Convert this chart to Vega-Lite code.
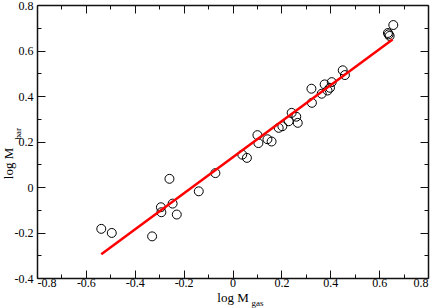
{
  "$schema": "https://vega.github.io/schema/vega-lite/v6.json",
  "autosize": "none",
  "width": 391,
  "height": 273,
  "padding": {"left": 37, "top": 5, "right": 8, "bottom": 30},
  "background": "white",
  "datasets": {
    "galaxies": [
      {"logMgas": -0.537, "logMbar": -0.184},
      {"logMgas": -0.494, "logMbar": -0.202},
      {"logMgas": -0.329, "logMbar": -0.217},
      {"logMgas": -0.293, "logMbar": -0.089},
      {"logMgas": -0.291, "logMbar": -0.111},
      {"logMgas": -0.258, "logMbar": 0.036},
      {"logMgas": -0.245, "logMbar": -0.073},
      {"logMgas": -0.228, "logMbar": -0.121},
      {"logMgas": -0.138, "logMbar": -0.019},
      {"logMgas": -0.070, "logMbar": 0.061},
      {"logMgas": 0.040, "logMbar": 0.142},
      {"logMgas": 0.059, "logMbar": 0.128},
      {"logMgas": 0.102, "logMbar": 0.228},
      {"logMgas": 0.106, "logMbar": 0.193},
      {"logMgas": 0.143, "logMbar": 0.210},
      {"logMgas": 0.160, "logMbar": 0.200},
      {"logMgas": 0.189, "logMbar": 0.260},
      {"logMgas": 0.204, "logMbar": 0.267},
      {"logMgas": 0.230, "logMbar": 0.289},
      {"logMgas": 0.242, "logMbar": 0.326},
      {"logMgas": 0.261, "logMbar": 0.309},
      {"logMgas": 0.267, "logMbar": 0.282},
      {"logMgas": 0.323, "logMbar": 0.432},
      {"logMgas": 0.325, "logMbar": 0.370},
      {"logMgas": 0.365, "logMbar": 0.410},
      {"logMgas": 0.377, "logMbar": 0.451},
      {"logMgas": 0.389, "logMbar": 0.424},
      {"logMgas": 0.399, "logMbar": 0.436},
      {"logMgas": 0.406, "logMbar": 0.461},
      {"logMgas": 0.451, "logMbar": 0.513},
      {"logMgas": 0.460, "logMbar": 0.492},
      {"logMgas": 0.636, "logMbar": 0.677},
      {"logMgas": 0.639, "logMbar": 0.671},
      {"logMgas": 0.643, "logMbar": 0.664},
      {"logMgas": 0.658, "logMbar": 0.712}
    ],
    "fit": [
      {"logMgas": -0.537, "logMbar": -0.296},
      {"logMgas": 0.655, "logMbar": 0.648}
    ]
  },
  "layer": [
    {
      "data": {"name": "galaxies"},
      "mark": {"type": "point", "shape": "circle", "filled": false, "stroke": "black", "strokeWidth": 1, "size": 80, "opacity": 1},
      "encoding": {
        "x": {
          "field": "logMgas", "type": "quantitative",
          "scale": {"domain": [-0.8, 0.8], "nice": false, "zero": false},
          "axis": {
            "orient": "bottom",
            "title": "log M",
            "titleX": 195.5, "titleY": 23, "titleAlign": "center", "titleBaseline": "alphabetic",
            "values": [-0.8, -0.7, -0.6, -0.5, -0.4, -0.3, -0.2, -0.1, 0, 0.1, 0.2, 0.3, 0.4, 0.5, 0.6, 0.7, 0.8],
            "tickSize": {"condition": {"test": "abs(round(datum.value*10))%2==1", "value": -4}, "value": -8},
            "labelPadding": 7.5,
            "labelFont": "Liberation Serif",
            "labelFontSize": 12,
            "labelExpr": "abs(round(datum.value*10))%2==1 ? '' : (round(datum.value*10)==0 ? '0' : replace(format(datum.value, '.1f'), '\u2212', '-'))"
          }
        },
        "y": {
          "field": "logMbar", "type": "quantitative",
          "scale": {"domain": [-0.4, 0.8], "nice": false, "zero": false},
          "axis": {
            "orient": "left",
            "title": "log M",
            "titleAngle": -90,
            "titleX": -25, "titleY": 158, "titleAlign": "center", "titleBaseline": "alphabetic",
            "values": [-0.4, -0.3, -0.2, -0.1, 0, 0.1, 0.2, 0.3, 0.4, 0.5, 0.6, 0.7, 0.8],
            "tickSize": {"condition": {"test": "abs(round(datum.value*10))%2==1", "value": -4}, "value": -8},
            "labelPadding": 12,
            "labelFont": "Liberation Serif",
            "labelFontSize": 12,
            "labelExpr": "abs(round(datum.value*10))%2==1 ? '' : (round(datum.value*10)==0 ? '0' : replace(format(datum.value, '.1f'), '\u2212', '-'))"
          }
        }
      }
    },
    {
      "data": {"name": "fit"},
      "mark": {"type": "line", "color": "#ff0000", "strokeWidth": 2.5},
      "encoding": {
        "x": {
          "field": "logMgas", "type": "quantitative",
          "axis": {
            "orient": "top",
            "title": "gas",
            "titleFontSize": 9,
            "titleX": 214, "titleY": 300.5, "titleAlign": "left", "titleBaseline": "alphabetic",
            "values": [-0.8, -0.7, -0.6, -0.5, -0.4, -0.3, -0.2, -0.1, 0, 0.1, 0.2, 0.3, 0.4, 0.5, 0.6, 0.7, 0.8],
            "tickSize": {"condition": {"test": "abs(round(datum.value*10))%2==1", "value": -4}, "value": -8},
            "labels": false
          }
        },
        "y": {
          "field": "logMbar", "type": "quantitative",
          "axis": {
            "orient": "right",
            "title": "bar",
            "titleFontSize": 9,
            "titleAngle": -90,
            "titleX": -407.5, "titleY": 134, "titleAlign": "left", "titleBaseline": "alphabetic",
            "values": [-0.4, -0.3, -0.2, -0.1, 0, 0.1, 0.2, 0.3, 0.4, 0.5, 0.6, 0.7, 0.8],
            "tickSize": {"condition": {"test": "abs(round(datum.value*10))%2==1", "value": -4}, "value": -8},
            "labels": false
          }
        }
      }
    }
  ],
  "resolve": {"axis": {"x": "independent", "y": "independent"}},
  "config": {
    "view": {"stroke": null},
    "axis": {
      "grid": false,
      "domain": true,
      "domainColor": "#111111",
      "domainWidth": 1.5,
      "ticks": true,
      "tickColor": "#111111",
      "tickWidth": 1,
      "labelFont": "Liberation Serif",
      "labelFontSize": 12,
      "labelColor": "black",
      "titleFont": "Liberation Serif",
      "titleFontSize": 13,
      "titleFontWeight": "normal",
      "titleColor": "black",
      "titlePadding": 0
    }
  }
}
